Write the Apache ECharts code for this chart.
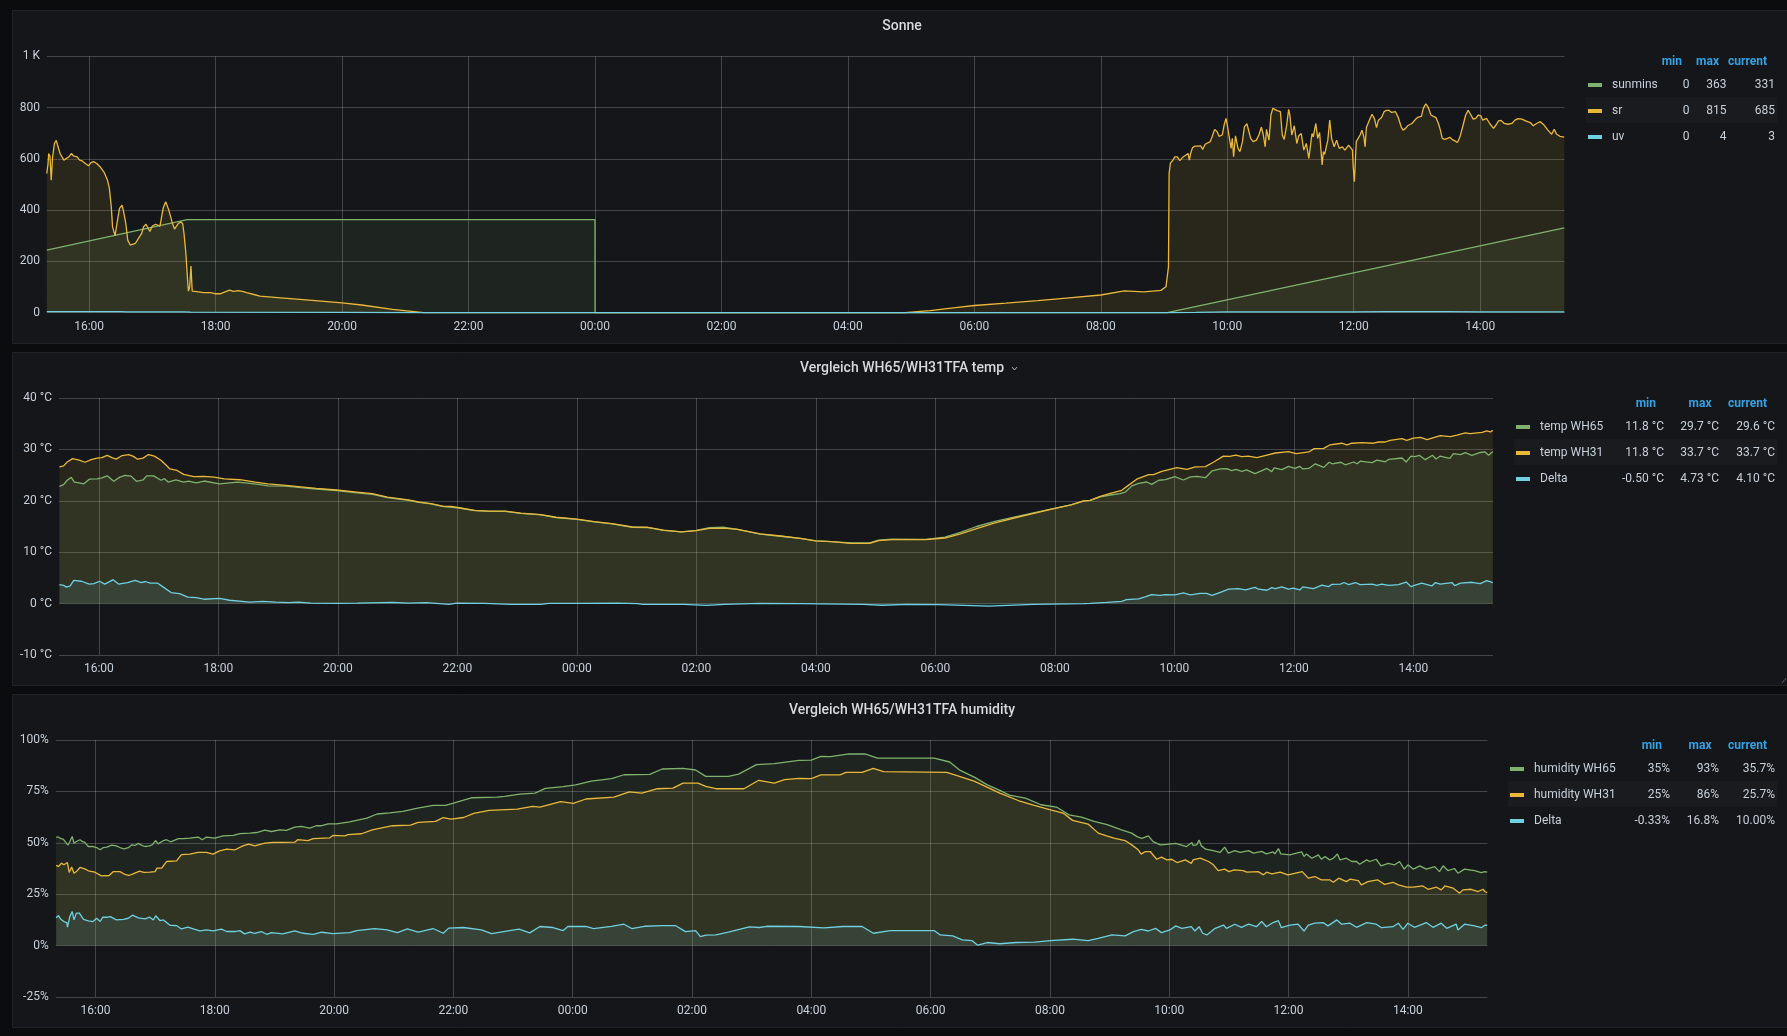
<!DOCTYPE html>
<html>
<head>
<meta charset="utf-8">
<title>Wetter</title>
<script src="https://cdn.jsdelivr.net/npm/echarts@6/dist/echarts.min.js"></script>
<style>
  html, body { margin: 0; padding: 0; background: #0b0c0e; }
  #chart { width: 1787px; height: 1036px; }
</style>
</head>
<body>
<div id="chart"></div>
<script>
// time is given in hours from 00:00 of the first day, the next day runs past 24
const timeStart = 15 + 1 / 3;
const timeEnd = 39 + 1 / 3;
const timeTicks = [16, 18, 20, 22, 24, 26, 28, 30, 32, 34, 36, 38];

const sunmins = [[15.33, 244], [17.55, 363], [24, 363], [24.001, 0], [33.05, 0], [39.33, 331]];
const sr = [
  [15.33, 543], [15.35, 582], [15.36, 621], [15.38, 611], [15.40, 517], [15.42, 602], [15.43, 598], [15.45, 660], [15.48, 672], [15.50, 654],
  [15.54, 621], [15.60, 595], [15.63, 595], [15.68, 608], [15.72, 621], [15.75, 612], [15.81, 608], [15.85, 595], [15.89, 592], [15.94, 582],
  [15.99, 573], [16.03, 585], [16.07, 589], [16.12, 582], [16.18, 567], [16.24, 546], [16.29, 517], [16.32, 485], [16.35, 413], [16.37, 335],
  [16.41, 300], [16.44, 348], [16.48, 407], [16.52, 419], [16.54, 400], [16.58, 348], [16.61, 283], [16.65, 264], [16.68, 259], [16.73, 270],
  [16.78, 290], [16.83, 309], [16.86, 335], [16.90, 345], [16.92, 335], [16.96, 317], [17.00, 338], [17.05, 345], [17.08, 338], [17.12, 338],
  [17.17, 407], [17.21, 433], [17.26, 400], [17.31, 355], [17.35, 326], [17.38, 326], [17.41, 348], [17.45, 355], [17.48, 346], [17.50, 309],
  [17.53, 231], [17.56, 114], [17.57, 84], [17.59, 101], [17.61, 182], [17.63, 84], [17.70, 82], [17.81, 78], [17.92, 78], [17.99, 74],
  [18.08, 74], [18.13, 79], [18.22, 88], [18.28, 83], [18.36, 86], [18.44, 82], [18.49, 78], [18.62, 70], [18.70, 65], [19.03, 58],
  [19.43, 50], [20.00, 38], [20.31, 30], [20.80, 13], [21.29, 0], [28.90, 0], [29.30, 8], [29.70, 20], [30.00, 28], [30.50, 37],
  [31.00, 47], [31.50, 58], [32.00, 69], [32.37, 85], [32.68, 81], [32.95, 87], [33.03, 101], [33.07, 179], [33.08, 543], [33.10, 583],
  [33.14, 595], [33.17, 608], [33.21, 608], [33.25, 593], [33.29, 605], [33.33, 612], [33.38, 621], [33.40, 595], [33.42, 621], [33.45, 644],
  [33.49, 650], [33.54, 650], [33.58, 651], [33.61, 637], [33.65, 657], [33.68, 664], [33.73, 667], [33.76, 686], [33.80, 715], [33.84, 706],
  [33.87, 688], [33.92, 693], [33.95, 732], [33.98, 758], [34.00, 732], [34.03, 738], [34.06, 641], [34.08, 680], [34.10, 608], [34.13, 690],
  [34.17, 641], [34.20, 628], [34.24, 667], [34.27, 725], [34.31, 737], [34.34, 732], [34.37, 680], [34.41, 667], [34.46, 673], [34.50, 693],
  [34.54, 724], [34.57, 693], [34.60, 647], [34.62, 715], [34.66, 673], [34.69, 771], [34.72, 797], [34.75, 800], [34.79, 788], [34.84, 784],
  [34.87, 693], [34.90, 676], [34.94, 732], [34.97, 793], [34.99, 771], [35.02, 693], [35.06, 729], [35.10, 660], [35.13, 690], [35.17, 699],
  [35.21, 634], [35.25, 660], [35.29, 602], [35.34, 699], [35.36, 686], [35.40, 738], [35.43, 680], [35.46, 703], [35.50, 576], [35.52, 628],
  [35.54, 618], [35.59, 673], [35.62, 751], [35.65, 680], [35.69, 647], [35.73, 673], [35.77, 641], [35.82, 647], [35.86, 634], [35.92, 654],
  [35.98, 634], [35.99, 576], [36.01, 511], [36.04, 667], [36.10, 693], [36.13, 712], [36.16, 686], [36.18, 647], [36.20, 722], [36.23, 722],
  [36.26, 758], [36.29, 774], [36.33, 755], [36.36, 722], [36.39, 751], [36.44, 761], [36.48, 784], [36.52, 789], [36.56, 789], [36.60, 781],
  [36.63, 775], [36.66, 784], [36.70, 764], [36.75, 725], [36.78, 712], [36.82, 719], [36.85, 729], [36.88, 725], [36.92, 738], [36.95, 735],
  [36.98, 755], [37.02, 763], [37.07, 766], [37.10, 797], [37.14, 815], [37.18, 800], [37.22, 771], [37.26, 766], [37.30, 761], [37.34, 738],
  [37.37, 712], [37.40, 680], [37.44, 676], [37.47, 670], [37.52, 684], [37.56, 675], [37.60, 670], [37.64, 664], [37.68, 686], [37.73, 732],
  [37.77, 771], [37.81, 789], [37.84, 777], [37.89, 755], [37.93, 758], [37.97, 771], [38.01, 768], [38.04, 751], [38.10, 758], [38.15, 738],
  [38.21, 719], [38.25, 732], [38.29, 748], [38.33, 750], [38.38, 738], [38.44, 735], [38.50, 738], [38.55, 751], [38.60, 757], [38.66, 755],
  [38.72, 748], [38.80, 740], [38.84, 729], [38.89, 738], [38.95, 745], [39.01, 732], [39.07, 712], [39.09, 708], [39.13, 696], [39.17, 715],
  [39.21, 696], [39.26, 688], [39.29, 683], [39.33, 685]
];
const uv = [[15.33, 4], [16.5, 4], [16.6, 3], [17.5, 3], [17.6, 2], [20, 1], [21.3, 0], [33.05, 0], [33.5, 1], [34, 3], [36, 3], [36.5, 4], [37.5, 4], [38, 3], [39.33, 3]];

const tempWH65 = [
  [15.34, 22.8], [15.41, 23.15], [15.47, 24], [15.54, 24.55], [15.59, 23.65], [15.67, 23.5], [15.75, 23.3], [15.84, 24.2], [15.97, 24.25], [16.05, 24.45],
  [16.14, 24.85], [16.25, 23.8], [16.35, 24.6], [16.44, 24.95], [16.54, 24.8], [16.63, 23.8], [16.74, 24.05], [16.80, 24.85], [16.92, 24.85], [17.04, 24],
  [17.10, 24.3], [17.16, 23.65], [17.29, 24.05], [17.42, 23.65], [17.50, 23.85], [17.63, 23.5], [17.76, 23.85], [18.02, 23.3], [18.32, 23.65], [18.53, 23.4],
  [18.70, 23.15], [18.83, 22.9], [19.13, 22.85], [19.38, 22.55], [19.64, 22.3], [19.98, 22.0], [20.32, 21.55], [20.58, 21.25], [20.83, 20.6], [21.18, 20.1],
  [21.35, 19.7], [21.56, 19.4], [21.77, 18.85], [22.03, 18.6], [22.29, 18.1], [22.54, 17.95], [22.80, 17.95], [23.06, 17.55], [23.40, 17.25], [23.65, 16.75],
  [24.00, 16.4], [24.29, 15.9], [24.59, 15.5], [24.93, 14.85], [25.19, 14.8], [25.45, 14.25], [25.75, 13.95], [26.00, 14.25], [26.22, 14.8], [26.47, 14.85],
  [26.69, 14.45], [27.07, 13.5], [27.41, 13.1], [27.74, 12.7], [28.00, 12.2], [28.26, 12.05], [28.60, 11.8], [28.90, 11.8], [29.05, 12.35], [29.27, 12.55],
  [29.84, 12.5], [30.16, 12.95], [30.42, 13.85], [30.69, 15], [31.00, 16], [31.37, 16.95], [31.95, 18.45], [32.27, 19.2], [32.48, 19.95], [32.59, 20.1],
  [32.76, 20.75], [32.93, 21.13], [33.09, 21.4], [33.18, 21.7], [33.29, 22.9], [33.40, 23.4], [33.54, 23.66], [33.62, 23.2], [33.74, 24], [33.85, 24.1],
  [34.01, 24.7], [34.15, 24.05], [34.27, 24.64], [34.38, 24.76], [34.52, 24.5], [34.63, 25.8], [34.77, 26.2], [34.88, 26.26], [34.96, 25.87], [35.03, 26.13],
  [35.13, 25.74], [35.21, 26], [35.35, 25.3], [35.55, 26.3], [35.63, 25.67], [35.67, 26.4], [35.80, 26.06], [35.91, 26.7], [36.02, 26.3], [36.10, 26.7],
  [36.15, 26.2], [36.25, 26.3], [36.36, 27.2], [36.50, 26.5], [36.59, 27.5], [36.64, 27.2], [36.79, 27.5], [36.86, 27], [37.00, 27.55], [37.06, 27.2],
  [37.11, 27.7], [37.31, 27.44], [37.39, 27.9], [37.53, 27.6], [37.59, 28.07], [37.81, 28.33], [37.88, 27.55], [37.96, 28.7], [38.03, 28.6], [38.10, 28.85],
  [38.20, 28], [38.32, 28.85], [38.38, 28.14], [38.45, 28.7], [38.61, 28.27], [38.67, 29.17], [38.79, 29], [38.87, 29.37], [38.98, 28.85], [39.12, 29.4],
  [39.20, 29.5], [39.26, 28.85], [39.33, 29.6]
];
const tempWH31 = [
  [15.34, 26.6], [15.41, 26.8], [15.47, 27.55], [15.56, 28.2], [15.67, 27.9], [15.77, 27.5], [15.87, 28], [15.97, 28.3], [16.05, 28.4], [16.14, 28.85],
  [16.22, 28.4], [16.29, 28.1], [16.39, 28.8], [16.50, 29], [16.58, 28.65], [16.65, 28.1], [16.74, 28.3], [16.83, 29], [16.93, 28.7], [17.04, 27.9],
  [17.12, 27], [17.19, 26.2], [17.31, 25.9], [17.42, 25.15], [17.59, 24.7], [17.76, 24.76], [17.93, 24.6], [18.10, 24.25], [18.36, 24.1], [18.62, 23.65],
  [18.83, 23.3], [19.13, 23], [19.38, 22.7], [19.64, 22.4], [19.98, 22.1], [20.32, 21.7], [20.58, 21.4], [20.83, 20.7], [21.18, 20.2], [21.35, 19.8],
  [21.56, 19.45], [21.77, 18.9], [21.90, 18.9], [22.03, 18.65], [22.29, 18.15], [22.54, 18], [22.80, 18], [23.06, 17.6], [23.40, 17.3], [23.65, 16.8],
  [24.00, 16.45], [24.29, 15.95], [24.59, 15.55], [24.93, 14.9], [25.19, 14.85], [25.45, 14.3], [25.75, 13.95], [26.00, 14.2], [26.22, 14.65], [26.47, 14.7],
  [26.69, 14.45], [27.07, 13.55], [27.41, 13.15], [27.74, 12.7], [28.00, 12.2], [28.26, 12.05], [28.58, 11.73], [28.90, 11.73], [29.05, 12.25], [29.27, 12.44],
  [29.84, 12.44], [30.16, 12.76], [30.42, 13.55], [30.69, 14.6], [31.00, 15.7], [31.37, 16.8], [31.95, 18.4], [32.27, 19.2], [32.48, 20], [32.59, 20.1],
  [32.76, 20.87], [32.93, 21.46], [33.12, 22.04], [33.23, 23], [33.37, 24.2], [33.57, 25.1], [33.65, 25.1], [33.79, 25.74], [34.04, 26.45], [34.21, 26.13],
  [34.35, 26.6], [34.52, 26.65], [34.66, 27.55], [34.82, 28.7], [34.93, 28.65], [35.03, 28.9], [35.13, 28.6], [35.24, 28.7], [35.38, 28.4], [35.55, 28.9],
  [35.69, 29.3], [35.91, 29.56], [36.04, 29.17], [36.25, 29.5], [36.34, 30.15], [36.50, 30.2], [36.60, 30.86], [36.80, 31.2], [36.89, 30.86], [36.97, 31.2],
  [37.14, 31.3], [37.33, 31.2], [37.42, 31.44], [37.53, 31.44], [37.61, 31.77], [37.81, 32.1], [37.89, 31.77], [38.00, 32.2], [38.12, 32.35], [38.23, 31.9],
  [38.34, 32.3], [38.45, 32.7], [38.62, 32.5], [38.73, 32.8], [38.87, 33.2], [38.95, 33.05], [39.15, 33.3], [39.23, 33.6], [39.29, 33.4], [39.33, 33.7]
];
const tempDelta = [
  [15.34, 3.7], [15.41, 3.55], [15.46, 3.2], [15.52, 3.45], [15.58, 4.5], [15.71, 4.35], [15.84, 3.8], [15.92, 3.9], [16.01, 4.35], [16.10, 3.8],
  [16.24, 4.65], [16.33, 3.8], [16.48, 4.1], [16.61, 4.5], [16.71, 4.1], [16.78, 4.3], [16.86, 4], [16.98, 4], [17.08, 3.2], [17.21, 2.15],
  [17.35, 1.95], [17.49, 1.25], [17.63, 1.15], [17.76, 0.85], [18.02, 1], [18.19, 0.65], [18.53, 0.3], [18.74, 0.45], [18.96, 0.3], [19.17, 0.2],
  [19.34, 0.3], [19.55, 0.1], [19.98, 0.05], [20.32, 0.1], [20.92, 0.25], [21.18, 0.1], [21.48, 0.2], [21.86, -0.15], [21.99, 0.1], [22.46, 0.05],
  [22.89, -0.15], [23.40, -0.15], [23.53, 0.05], [24.00, 0.05], [24.68, 0.1], [25.02, 0], [25.10, -0.15], [25.79, -0.15], [26.17, -0.35], [26.47, -0.15],
  [27.07, 0.05], [27.74, 0], [28.79, -0.15], [29.11, -0.32], [29.53, -0.15], [30.06, -0.2], [30.90, -0.5], [31.64, -0.15], [32.48, 0], [32.59, 0.05],
  [32.87, 0.25], [33.12, 0.45], [33.20, 0.76], [33.40, 0.9], [33.51, 1.3], [33.62, 1.75], [33.76, 1.6], [33.85, 1.75], [34.01, 1.7], [34.15, 2.07],
  [34.27, 1.7], [34.43, 2], [34.54, 2], [34.63, 1.6], [34.77, 2.2], [34.91, 2.8], [35.07, 2.9], [35.19, 2.65], [35.35, 3.17], [35.41, 2.8],
  [35.55, 2.6], [35.63, 3.1], [35.69, 2.9], [35.80, 3.25], [35.91, 2.8], [35.99, 3], [36.10, 2.65], [36.15, 3.25], [36.33, 2.9], [36.47, 3.6],
  [36.58, 3.3], [36.64, 3.75], [36.78, 3.8], [36.84, 4.1], [36.92, 3.7], [37.03, 4.1], [37.11, 3.7], [37.31, 3.8], [37.39, 3.55], [37.47, 3.8],
  [37.59, 3.55], [37.75, 3.7], [37.88, 4.2], [37.96, 3.3], [38.03, 3.6], [38.14, 4], [38.31, 3.43], [38.37, 4.1], [38.45, 3.8], [38.65, 4.1],
  [38.69, 3.5], [38.79, 4], [38.98, 4.15], [39.12, 3.9], [39.23, 4.47], [39.33, 4.1]
];

const humWH65 = [
  [15.34, 52.8], [15.38, 52.8], [15.42, 52], [15.46, 51.8], [15.49, 51.1], [15.54, 48.9], [15.57, 50.65], [15.61, 53.1], [15.64, 49.8], [15.68, 50.65],
  [15.74, 51.5], [15.78, 50.65], [15.82, 50.2], [15.88, 48.2], [15.96, 48.2], [16.02, 47.7], [16.08, 46.6], [16.13, 47.7], [16.19, 47.9], [16.27, 48.9],
  [16.35, 48.5], [16.41, 47.7], [16.48, 47.1], [16.55, 47.6], [16.61, 49], [16.66, 48.7], [16.72, 49.7], [16.77, 48.9], [16.83, 48.2], [16.90, 48.5],
  [16.95, 49], [17.01, 51.1], [17.05, 49.5], [17.14, 51.1], [17.19, 51.5], [17.26, 50.5], [17.39, 52], [17.47, 52], [17.58, 52.3], [17.72, 52.8],
  [17.79, 51.5], [17.86, 52.8], [18.00, 52.3], [18.14, 53.4], [18.31, 53.6], [18.42, 54.5], [18.59, 54.7], [18.70, 55], [18.84, 56.2], [18.95, 55.5],
  [19.09, 56.3], [19.20, 56], [19.34, 57.6], [19.45, 57.95], [19.59, 57.1], [19.70, 58.3], [19.79, 58.3], [19.90, 59.25], [20.04, 59.25], [20.26, 60.2],
  [20.55, 62], [20.72, 64], [20.93, 64.6], [21.15, 65.3], [21.40, 66.9], [21.66, 68.2], [21.87, 68.2], [22.00, 69.3], [22.30, 71.9], [22.73, 72.2],
  [22.86, 72.6], [23.11, 73.7], [23.37, 74.2], [23.54, 76.5], [23.84, 77.3], [24.05, 78.2], [24.31, 80], [24.65, 81.2], [24.86, 83.1], [25.29, 83.3],
  [25.50, 85.9], [25.85, 86.2], [26.06, 85.4], [26.23, 82.3], [26.61, 82.3], [26.78, 83.4], [27.08, 88], [27.38, 88.5], [27.79, 90.1], [28.00, 90.25],
  [28.16, 92], [28.32, 91.9], [28.63, 93.2], [28.90, 93.2], [29.11, 91.2], [30.06, 91.2], [30.32, 89.3], [30.48, 85.5], [30.74, 81.8], [30.95, 78.2],
  [31.16, 75.5], [31.32, 73.2], [31.59, 71.75], [31.85, 68.5], [32.11, 67.4], [32.32, 63.6], [32.53, 62.5], [32.74, 60.4], [32.96, 58.8], [33.20, 56.3],
  [33.37, 54.7], [33.46, 53], [33.54, 52.2], [33.65, 53.4], [33.73, 50.6], [33.85, 49], [33.96, 49.2], [34.11, 49.7], [34.29, 48.2], [34.38, 50.1],
  [34.40, 48.7], [34.46, 49], [34.50, 51.4], [34.54, 48.5], [34.61, 46.9], [34.74, 46.2], [34.85, 45.3], [34.93, 47.9], [34.99, 45], [35.10, 46.2],
  [35.19, 45.3], [35.33, 46.2], [35.41, 45], [35.55, 45.8], [35.63, 44.6], [35.74, 45.6], [35.77, 44.6], [35.83, 47.2], [35.87, 44.6], [36.02, 44.1],
  [36.13, 45], [36.22, 45.6], [36.26, 43.3], [36.30, 44.6], [36.39, 42.5], [36.50, 44.1], [36.55, 42], [36.61, 43.3], [36.69, 41.7], [36.75, 42.5],
  [36.82, 44.6], [36.86, 41.7], [36.97, 42.5], [37.06, 40.9], [37.14, 40.9], [37.19, 39.6], [37.31, 41.7], [37.36, 40.9], [37.47, 42], [37.55, 38.8],
  [37.67, 40], [37.78, 39.3], [37.86, 40.9], [37.94, 37.2], [38.00, 39.3], [38.09, 37.2], [38.20, 38.8], [38.31, 37.2], [38.45, 38.4], [38.53, 36],
  [38.59, 38.8], [38.67, 36.5], [38.78, 37.5], [38.84, 35.2], [38.95, 37.2], [39.12, 36.5], [39.23, 35.5], [39.29, 36], [39.33, 35.7]
];
const humWH31 = [
  [15.34, 39], [15.38, 38.5], [15.43, 40.1], [15.47, 39.3], [15.53, 40.4], [15.56, 35.6], [15.60, 38.2], [15.64, 35.2], [15.68, 36], [15.74, 38],
  [15.82, 37.3], [15.88, 36.4], [15.99, 35.7], [16.10, 33.9], [16.23, 34.1], [16.30, 36], [16.41, 36], [16.49, 34.7], [16.56, 34.1], [16.63, 34.9],
  [16.74, 36.2], [16.81, 35.6], [16.91, 35.7], [17.00, 36], [17.03, 37.7], [17.11, 37.7], [17.19, 40.9], [17.36, 41.2], [17.44, 44.2], [17.58, 44.5],
  [17.72, 45.3], [17.86, 45.3], [17.97, 44.5], [18.08, 46.1], [18.20, 46.9], [18.34, 46.6], [18.47, 48.5], [18.57, 49.4], [18.67, 48.5], [18.84, 49.8],
  [18.98, 50.2], [19.14, 50.2], [19.34, 50.3], [19.39, 51.5], [19.56, 51.1], [19.65, 52], [19.93, 52.4], [19.98, 53.6], [20.18, 53.4], [20.23, 54],
  [20.46, 54.4], [20.64, 56.3], [20.98, 58.3], [21.28, 58.6], [21.41, 59.9], [21.70, 60.4], [21.83, 62.3], [21.96, 61.5], [22.17, 62.3], [22.34, 64.3],
  [22.60, 65.8], [23.07, 66.4], [23.33, 67.7], [23.45, 67.4], [23.80, 70], [24.01, 69.2], [24.22, 71.3], [24.69, 72.2], [24.95, 74.8], [25.16, 74.2],
  [25.42, 76.3], [25.68, 76.6], [25.85, 79], [26.10, 79], [26.23, 77.4], [26.40, 76.3], [26.87, 76.3], [27.12, 80.4], [27.38, 79], [27.55, 80.7],
  [27.79, 81.3], [28.00, 81.2], [28.16, 83], [28.48, 83], [28.58, 84.25], [28.85, 84.25], [29.04, 86.2], [29.21, 84.6], [30.27, 84.25], [30.43, 82.8],
  [30.74, 79.9], [31.16, 74.2], [31.48, 70.45], [31.74, 68.2], [32.01, 66], [32.22, 64.45], [32.38, 60.9], [32.64, 59.1], [32.81, 54.7], [32.95, 53.4],
  [33.09, 52.2], [33.26, 51.1], [33.37, 49], [33.48, 46.6], [33.53, 44.5], [33.60, 45.75], [33.68, 45.75], [33.79, 42], [33.87, 43], [33.96, 41.7],
  [34.04, 42], [34.13, 40.4], [34.27, 41.7], [34.37, 40], [34.40, 41.7], [34.52, 42.5], [34.66, 40.9], [34.74, 39.3], [34.82, 36.5], [34.93, 37.2],
  [35.00, 36], [35.09, 36.8], [35.24, 36.5], [35.30, 35.7], [35.49, 36], [35.58, 34.4], [35.63, 35.7], [35.72, 34.9], [35.86, 35.7], [35.99, 34.4],
  [36.23, 36], [36.33, 32.8], [36.44, 33.6], [36.55, 32], [36.69, 32], [36.75, 30.8], [36.84, 32.8], [36.97, 31.1], [37.03, 32.3], [37.17, 31.6],
  [37.22, 29.5], [37.33, 31.1], [37.49, 32], [37.61, 29.8], [37.75, 30.8], [37.84, 29.5], [37.98, 28.4], [38.09, 28.4], [38.25, 29], [38.34, 27.4],
  [38.48, 28.4], [38.56, 27.1], [38.62, 29], [38.76, 27.9], [38.87, 25.5], [38.92, 27.1], [39.06, 27.4], [39.18, 26.3], [39.26, 27.4], [39.29, 26.3],
  [39.33, 25.7]
];
const humDelta = [
  [15.34, 13.6], [15.38, 14.6], [15.42, 12.8], [15.47, 11.7], [15.52, 11.2], [15.53, 9], [15.57, 14.1], [15.61, 16.6], [15.64, 12.5], [15.68, 15.8],
  [15.73, 15.8], [15.80, 12.8], [15.88, 12], [15.96, 11.7], [16.02, 13.3], [16.08, 11.7], [16.12, 13.8], [16.20, 13.8], [16.25, 14.1], [16.35, 12.5],
  [16.47, 12.8], [16.55, 13.3], [16.62, 14.8], [16.72, 13.5], [16.83, 13], [16.91, 13.8], [16.97, 12.5], [17.01, 14.5], [17.08, 12.2], [17.14, 12.5],
  [17.25, 9.9], [17.36, 9.75], [17.44, 8.1], [17.55, 9], [17.64, 8.1], [17.75, 7.15], [17.86, 7.65], [17.97, 7.15], [18.11, 8], [18.20, 6.85],
  [18.34, 6.85], [18.42, 7.3], [18.50, 5.7], [18.59, 6.5], [18.67, 6], [18.78, 6.85], [18.87, 5.5], [18.95, 6.35], [19.14, 5.7], [19.34, 7.15],
  [19.48, 6], [19.65, 5.5], [19.79, 6.5], [19.98, 5.85], [20.26, 6.35], [20.38, 7.3], [20.68, 8.3], [20.89, 7.6], [21.06, 6.35], [21.23, 8.1],
  [21.41, 6.5], [21.66, 8.3], [21.83, 6], [21.92, 8.5], [22.17, 8.8], [22.47, 7.6], [22.64, 5.8], [22.94, 7.3], [23.10, 8], [23.28, 6.2],
  [23.45, 9.3], [23.67, 8.8], [23.84, 7.3], [23.92, 9.3], [24.22, 9.3], [24.35, 8.3], [24.65, 9.3], [24.86, 10.4], [24.99, 8.3], [25.20, 9.4],
  [25.50, 9.75], [25.72, 9.75], [25.89, 6.8], [26.06, 7.3], [26.14, 4.4], [26.23, 5.05], [26.40, 5.2], [26.61, 6.5], [26.96, 9.1], [27.13, 8.8],
  [27.25, 9.4], [27.79, 9.3], [28.21, 8.6], [28.53, 9.3], [28.85, 9.3], [29.04, 6], [29.32, 7.3], [30.06, 7.3], [30.16, 5.2], [30.37, 4.7],
  [30.53, 2.8], [30.69, 2.45], [30.79, 0.2], [30.95, 1.5], [31.16, 0.9], [31.43, 1.5], [31.74, 1.65], [32.01, 2.45], [32.38, 3.1], [32.64, 2.45],
  [32.81, 3.55], [33.04, 5.2], [33.26, 4.7], [33.40, 6.8], [33.53, 7.9], [33.65, 7.1], [33.77, 8.4], [33.87, 6.3], [34.01, 7.6], [34.11, 9.6],
  [34.21, 8.4], [34.37, 9.2], [34.43, 7.1], [34.50, 9.2], [34.56, 6], [34.63, 5.2], [34.77, 8.4], [34.91, 10], [34.96, 8.4], [35.10, 10.4],
  [35.21, 8.9], [35.33, 10.4], [35.46, 9.2], [35.55, 11.7], [35.63, 9.2], [35.74, 11.2], [35.83, 12.1], [35.88, 8.7], [36.02, 10], [36.16, 10.4],
  [36.26, 7.1], [36.33, 10], [36.44, 10.9], [36.58, 11.2], [36.66, 9.6], [36.81, 12.5], [36.89, 10.4], [37.03, 10.9], [37.14, 8.9], [37.31, 11.2],
  [37.47, 10.4], [37.56, 8.7], [37.75, 9.2], [37.84, 10.9], [37.92, 7.9], [38.00, 10.9], [38.11, 8.9], [38.31, 11.2], [38.42, 8.9], [38.56, 10.9],
  [38.65, 8.4], [38.81, 10.4], [38.84, 7.6], [38.95, 10.4], [39.12, 9.6], [39.23, 8.7], [39.29, 9.9], [39.33, 10]
];

const legendHeader = ['min', 'max', 'current'];
const sonneLegend = [['sunmins', '0', '363', '331'], ['sr', '0', '815', '685'], ['uv', '0', '4', '3']];
const tempLegend = [['temp WH65', '11.8 °C', '29.7 °C', '29.6 °C'], ['temp WH31', '11.8 °C', '33.7 °C', '33.7 °C'], ['Delta', '-0.50 °C', '4.73 °C', '4.10 °C']];
const humLegend = [['humidity WH65', '35%', '93%', '35.7%'], ['humidity WH31', '25%', '86%', '25.7%'], ['Delta', '-0.33%', '16.8%', '10.00%']];

const colors = ['#7eb26d', '#eab839', '#6ed0e0'];
const font = 'Roboto';
const textColor = '#c7d0d9';
const gridColor = 'rgba(255,255,255,0.2)';

const panels = [
  {
    top: 10, height: 333, title: 'Sonne', titleX: 902, titleY: 26, grid: { left: 47, right: 222.5, top: 56.3, height: 256.4 },
    yMin: 0, yMax: 1000, yStep: 200, yFormat: v => (v === 1000 ? '1 K' : String(v)),
    series: [sunmins, sr, uv], names: ['sunmins', 'sr', 'uv'], legend: sonneLegend,
    headerY: 62, rowY: [84, 110, 136], swatchX: 1588, nameX: 1612, valueX: [1689.5, 1726.5, 1775], headX: [1682, 1719, 1767], rowX: 1586
  },
  {
    top: 352, height: 333, title: 'Vergleich WH65/WH31TFA temp', titleX: 902, titleY: 368, grid: { left: 59, right: 294, top: 398, height: 257 },
    yMin: -10, yMax: 40, yStep: 10, yFormat: v => v + ' °C',
    series: [tempWH65, tempWH31, tempDelta], names: ['temp WH65', 'temp WH31', 'Delta'], legend: tempLegend,
    headerY: 404, rowY: [426, 452, 478], swatchX: 1516, nameX: 1540, valueX: [1664, 1719, 1775], headX: [1656, 1711.5, 1767], rowX: 1514
  },
  {
    top: 694, height: 333, title: 'Vergleich WH65/WH31TFA humidity', titleX: 902, titleY: 710, grid: { left: 55.7, right: 299.6, top: 740, height: 257 },
    yMin: -25, yMax: 100, yStep: 25, yFormat: v => v + '%',
    series: [humWH65, humWH31, humDelta], names: ['humidity WH65', 'humidity WH31', 'Delta'], legend: humLegend,
    headerY: 746, rowY: [768, 794, 820], swatchX: 1510, nameX: 1534, valueX: [1670, 1719, 1775], headX: [1662, 1711.5, 1767], rowX: 1508
  }
];

function label(text, x, y, align, size, color, weight) {
  return {
    type: 'text', x, y, z: 20,
    style: { text, align, verticalAlign: 'middle', fill: color, font: `${weight || 400} ${size}px ${font}` }
  };
}

function panelGraphics(p) {
  const items = [
    { type: 'rect', z: -10, shape: { x: 12.5, y: p.top + 0.5, width: 1780, height: p.height }, style: { fill: '#141619', stroke: '#202226', lineWidth: 1 } },
    { type: 'rect', z: -9, shape: { x: p.rowX, y: p.rowY[1] - 13, width: 1777 - p.rowX, height: 26 }, style: { fill: '#191b1e' } },
    label(p.title, p.titleX, p.titleY, 'center', 14, '#d8d9da', 500)
  ];
  legendHeader.forEach((h, i) => items.push(label(h, p.headX[i], p.headerY, 'right', 12, '#33a2e5', 700)));
  p.legend.forEach((row, r) => {
    items.push({ type: 'rect', z: 20, shape: { x: p.swatchX, y: p.rowY[r] - 1, width: 14, height: 4 }, style: { fill: colors[r] } });
    items.push(label(row[0], p.nameX, p.rowY[r] + 1, 'left', 12, textColor));
    row.slice(1).forEach((v, i) => items.push(label(v, p.valueX[i], p.rowY[r] + 1, 'right', 12, textColor)));
  });
  return items;
}

// the little arrow behind the temp title and the panel resize corner
const titleArrow = {
  type: 'polyline', z: 20,
  shape: { points: [[1012, 367], [1014.5, 370], [1017, 367]] },
  style: { stroke: '#9fa7b3', lineWidth: 1, fill: 'none' }
};
const resizeCorner = {
  type: 'polyline', z: 20,
  shape: { points: [[1786, 678], [1782, 683]] },
  style: { stroke: '#5a5f66', lineWidth: 1, fill: 'none' }
};

const option = {
  animation: false,
  backgroundColor: '#0b0c0e',
  grid: panels.map(p => p.grid),
  xAxis: panels.map((p, i) => ({
    type: 'value', gridIndex: i, min: timeStart, max: timeEnd, position: 'bottom',
    axisLine: { show: false, onZero: false },
    axisTick: { show: false, customValues: timeTicks },
    splitLine: { show: true, lineStyle: { color: gridColor, width: 1 } },
    axisLabel: {
      customValues: timeTicks, color: textColor, fontFamily: font, fontSize: 12, margin: 8,
      formatter: v => String(v % 24).padStart(2, '0') + ':00'
    }
  })),
  yAxis: panels.map((p, i) => ({
    type: 'value', gridIndex: i, min: p.yMin, max: p.yMax, interval: p.yStep,
    axisLine: { show: false }, axisTick: { show: false },
    splitLine: { show: true, lineStyle: { color: gridColor, width: 1 } },
    axisLabel: { color: textColor, fontFamily: font, fontSize: 12, margin: 7, padding: [2, 0, 0, 0], formatter: p.yFormat }
  })),
  series: panels.flatMap((p, i) => p.series.map((data, s) => ({
    type: 'line', name: p.names[s], xAxisIndex: i, yAxisIndex: i, data, showSymbol: false, silent: true, clip: false,
    lineStyle: { color: colors[s], width: 1.3 }, itemStyle: { color: colors[s] },
    areaStyle: { color: colors[s], opacity: 0.1, origin: 0 }
  }))),
  graphic: { elements: panels.flatMap(panelGraphics).concat([titleArrow, resizeCorner]) }
};

const myChart = echarts.init(document.getElementById('chart'));
myChart.setOption(option);
</script>
</body>
</html>
